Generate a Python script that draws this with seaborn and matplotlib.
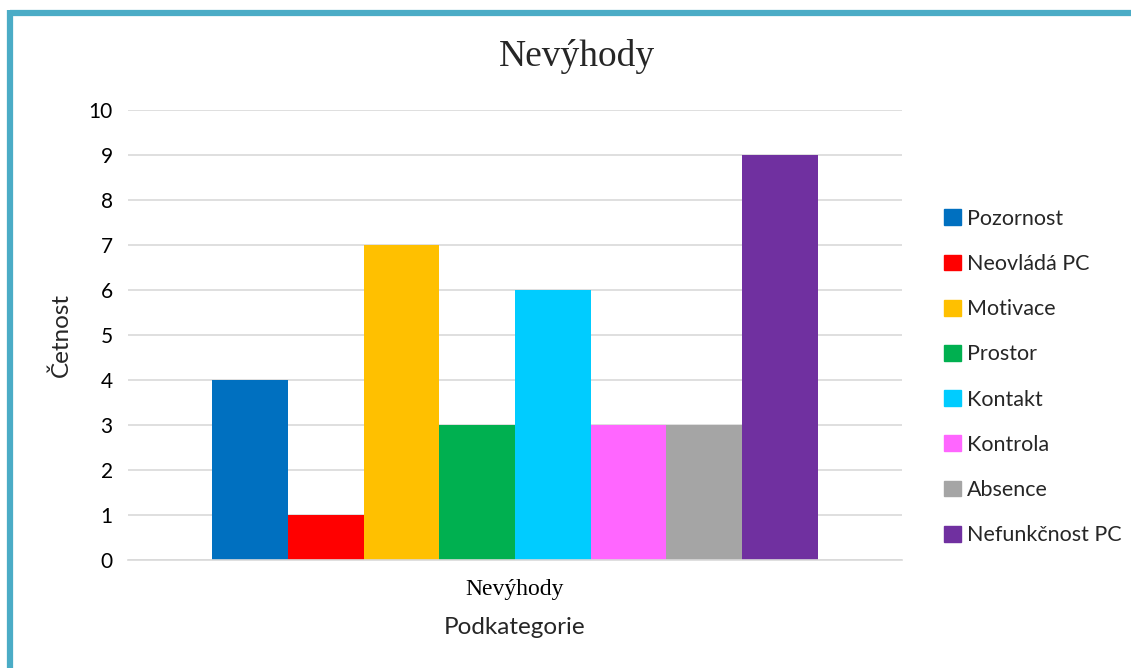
import pandas as pd
import matplotlib.pyplot as plt
import seaborn as sns
from matplotlib.lines import Line2D

categories = ['Pozornost', 'Neovládá PC', 'Motivace', 'Prostor', 'Kontakt',
              'Kontrola', 'Absence', 'Nefunkčnost PC']
values = [4, 1, 7, 3, 6, 3, 3, 9]
colors = ['#0070C0', '#FF0000', '#FFC000', '#00B050', '#00CCFF',
          '#FF66FF', '#A5A5A5', '#7030A0']
group = 'Nevýhody'

df = pd.DataFrame({'Podkategorie': [group] * len(categories),
                   'Podskupina': categories,
                   'Četnost': values})

sns.set_style('white')
plt.rcParams['font.family'] = ['Lato', 'DejaVu Sans']

fig = plt.figure(figsize=(11.31, 6.68), dpi=100)
ax = fig.add_axes([128 / 1131, 1 - 560 / 668, 774 / 1131, 450 / 668])

sns.barplot(data=df, x='Podkategorie', y='Četnost', hue='Podskupina',
            palette=colors, hue_order=categories, width=0.782, gap=0,
            saturation=1, edgecolor='none', ax=ax, legend=False)

ax.set_ylim(0, 10)
ax.set_xlim(-0.5, 0.5)
ax.set_yticks(range(0, 11))
ax.yaxis.grid(True, color='#D9D9D9', linewidth=1.2)
ax.set_axisbelow(True)
for s in ['top', 'right', 'left']:
    ax.spines[s].set_visible(False)
ax.spines['bottom'].set_color('#D9D9D9')
ax.spines['bottom'].set_linewidth(1.2)
ax.tick_params(axis='y', length=0, labelsize=15, colors='black', pad=11)
ax.tick_params(axis='x', length=0, colors='black', pad=14)
for lbl in ax.get_xticklabels():
    lbl.set_fontfamily('Liberation Serif')
    lbl.set_fontsize(17)
ax.set_xlabel('Podkategorie', fontsize=17.5, labelpad=12)
ax.set_ylabel('Četnost', fontsize=17.5, labelpad=12)

fig.text(577 / 1131, 1 - 56 / 668, 'Nevýhody', ha='center', va='center',
         fontsize=27, family='Liberation Serif')

handles = [plt.Rectangle((0, 0), 1, 1, color=c) for c in colors]
fig.legend(handles, categories, loc='center left',
           bbox_to_anchor=(925 / 1131, 1 - 377 / 668), frameon=False,
           fontsize=15.5, handlelength=0.75, handleheight=0.75,
           handletextpad=0.3, labelspacing=1.17)

# frame
fig.add_artist(Line2D([10 / 1131, 1], [1 - 13 / 668, 1 - 13 / 668],
                      transform=fig.transFigure, color='#4BACC6', linewidth=4.5,
                      solid_capstyle='butt'))
fig.add_artist(Line2D([10 / 1131, 10 / 1131], [0, 1 - 10 / 668],
                      transform=fig.transFigure, color='#4BACC6', linewidth=4.5,
                      solid_capstyle='butt'))

fig.savefig('out.png', dpi=100)
